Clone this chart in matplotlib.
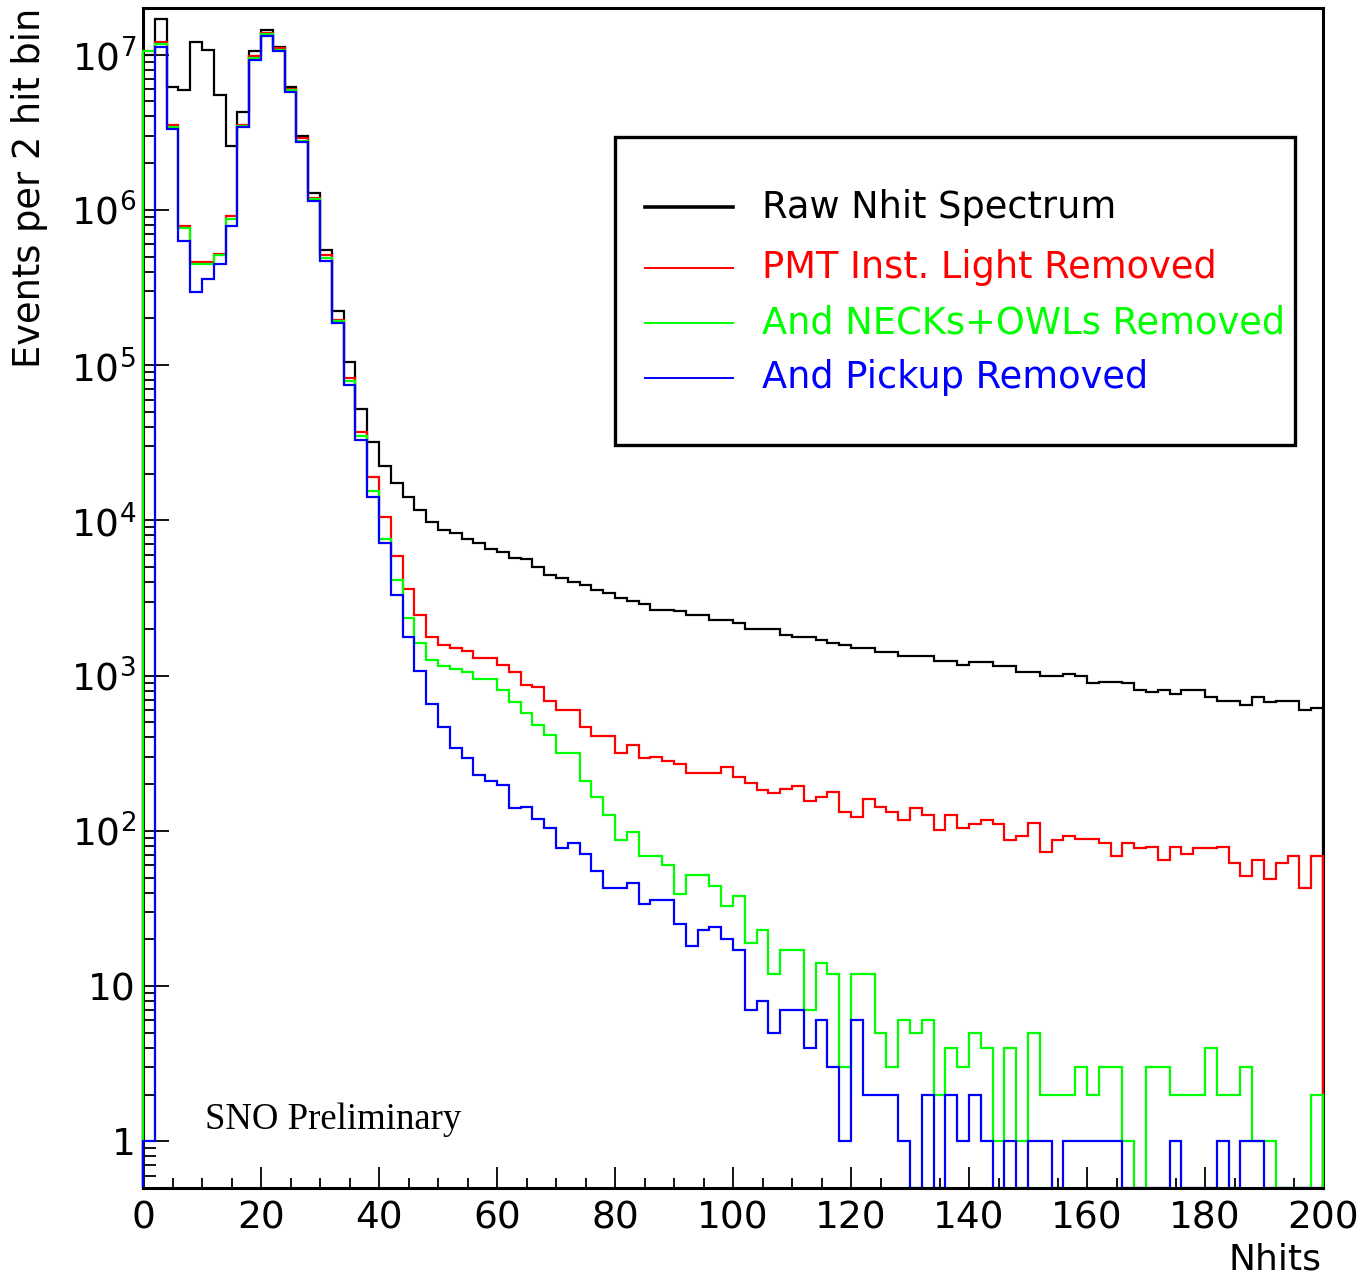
import numpy as np
import matplotlib
matplotlib.use('Agg')
import matplotlib.pyplot as plt
from matplotlib.lines import Line2D
from matplotlib.patches import Rectangle
from matplotlib.ticker import MultipleLocator, FixedLocator, FuncFormatter, NullFormatter

plt.rcParams['font.family'] = ['DejaVu Sans']
plt.rcParams['mathtext.fontset'] = 'dejavusans'

# Nhit bins, 2 hits wide, 0..200
edges = np.arange(0, 202, 2)

raw = [1.0e7, 1.7e7, 6.2e6, 5.9e6, 1.2e7, 1.07e7, 5.5e6, 2.6e6, 4.3e6, 1.05e7,
       1.45e7, 1.12e7, 6.2e6, 3.0e6, 1.29e6, 5.5e5, 2.24e5, 1.05e5, 5.2e4, 3.2e4,
       22400, 17400, 14100, 11700, 9800, 8700, 8300, 7600, 7100, 6500,
       6300, 5750, 5600, 5000, 4470, 4270, 4000, 3850, 3550, 3430,
       3160, 3020, 2880, 2630, 2630, 2600, 2450, 2450, 2290, 2290,
       2190, 2000, 2000, 2000, 1820, 1780, 1780, 1700, 1620, 1580,
       1510, 1510, 1410, 1410, 1340, 1340, 1340, 1250, 1250, 1170,
       1220, 1220, 1150, 1150, 1050, 1050, 1000, 1000, 1020, 1000,
       890, 910, 910, 890, 810, 780, 810, 760, 810, 810,
       730, 690, 690, 650, 730, 680, 690, 690, 600, 615]

pmt_cut = [1.05e7, 1.2e7, 3.55e6, 7.9e5, 4.6e5, 4.6e5, 5.2e5, 9.1e5, 3.55e6, 9.8e6,
           1.38e7, 1.1e7, 6.0e6, 2.9e6, 1.2e6, 5.1e5, 1.95e5, 8.3e4, 3.7e4, 1.9e4,
           10500, 5900, 3600, 2450, 1780, 1580, 1510, 1450, 1290, 1290,
           1170, 1050, 870, 840, 690, 600, 600, 470, 410, 410,
           316, 355, 295, 300, 280, 270, 237, 237, 237, 257,
           221, 204, 182, 174, 186, 195, 155, 166, 178, 132,
           123, 160, 143, 132, 117, 140, 126, 101, 126, 105,
           110, 117, 110, 87, 93, 112, 73, 87, 93, 89,
           89, 83, 69, 83, 78, 79, 65, 79, 71, 78,
           78, 79, 62, 51, 65, 49, 62, 69, 43, 69]

neck_cut = [1.05e7, 1.17e7, 3.4e6, 7.6e5, 4.5e5, 4.5e5, 5.1e5, 8.7e5, 3.45e6, 9.5e6,
            1.35e7, 1.07e7, 5.9e6, 2.8e6, 1.17e6, 4.9e5, 1.93e5, 7.9e4, 3.5e4, 1.55e4,
            7600, 4100, 2340, 1620, 1260, 1150, 1100, 1050, 955, 955,
            810, 676, 575, 480, 417, 316, 316, 209, 166, 126,
            87, 98, 69, 69, 60, 39, 52, 52, 44, 33,
            38, 19, 23, 12, 17, 17, 7, 14, 12, 3,
            12, 12, 5, 3, 6, 5, 6, 2, 4, 3,
            5, 4, 1, 4, 1, 5, 2, 2, 2, 3,
            2, 3, 3, 1, 0, 3, 3, 2, 2, 2,
            4, 2, 2, 3, 1, 1, 0, 0, 0, 2]

pickup_cut = [1, 1.12e7, 3.3e6, 6.3e5, 2.95e5, 3.6e5, 4.5e5, 7.9e5, 3.4e6, 9.3e6,
              1.32e7, 1.05e7, 5.75e6, 2.75e6, 1.15e6, 4.7e5, 1.86e5, 7.4e4, 3.3e4, 1.41e4,
              7100, 3300, 1780, 1070, 660, 470, 340, 295, 229, 209,
              197, 140, 143, 120, 105, 78, 83, 71, 55, 43,
              43, 46, 34, 36, 36, 25, 18, 23, 24, 20,
              17, 7, 8, 5, 7, 7, 4, 6, 3, 1,
              6, 2, 2, 2, 1, 0, 2, 0, 2, 1,
              2, 1, 0, 1, 0, 1, 1, 0, 1, 1,
              1, 1, 1, 0, 0, 0, 0, 1, 0, 0,
              0, 1, 0, 1, 1, 0, 0, 0, 0, 0]

labels = ['Raw Nhit Spectrum', 'PMT Inst. Light Removed',
          'And NECKs+OWLs Removed', 'And Pickup Removed']
colors = ['#000000', '#ff0000', '#00ff00', '#0000ff']

W, H = 1365, 1280
fig = plt.figure(figsize=(W / 100, H / 100), dpi=100)
ax = fig.add_axes([143 / W, 1 - 1188 / H, (1323 - 143) / W, (1188 - 8) / H])

ymin, ymax = 0.5, 2.0e7
for vals, c in zip([raw, pmt_cut, neck_cut, pickup_cut], colors):
    v = np.asarray(vals, dtype=float)
    v = np.where(v > ymin, v, ymin)  # empty bins sit on the frame bottom
    ax.stairs(v, edges, baseline=ymin, color=c, lw=1.6, zorder=3, clip_on=False)

ax.set_yscale('log')
ax.set_xlim(0, 200)
ax.set_ylim(ymin, ymax)

decades = [10.0 ** k for k in range(0, 8)]
minors = [m * 10.0 ** k for k in range(-1, 8) for m in range(2, 10)
          if ymin <= m * 10.0 ** k <= ymax]
ax.xaxis.set_major_locator(MultipleLocator(20))
ax.xaxis.set_minor_locator(MultipleLocator(5))
ax.yaxis.set_major_locator(FixedLocator(decades))
ax.yaxis.set_minor_locator(FixedLocator(minors))
ax.yaxis.set_minor_formatter(NullFormatter())


def ylab(v, pos):
    e = int(round(np.log10(v)))
    if e == 0:
        return '1'
    if e == 1:
        return '10'
    return r'$10^{%d}$' % e


ax.yaxis.set_major_formatter(FuncFormatter(ylab))

ax.tick_params(which='both', direction='in', top=False, right=False, width=1.3,
               labelsize=27, colors='black')
ax.tick_params(axis='x', which='major', length=15, pad=9)
ax.tick_params(axis='x', which='minor', length=7)
ax.tick_params(axis='y', which='major', length=19, pad=5)
ax.tick_params(axis='y', which='minor', length=9)
for s in ax.spines.values():
    s.set_linewidth(2.2)
ax.spines['left'].set_zorder(2)
ax.spines['right'].set_zorder(2)
ax.spines['bottom'].set_zorder(4)
ax.spines['top'].set_zorder(4)

# axis titles, ROOT style at the axis ends
fig.text(30 / W, 1 - 8 / H, 'Events per 2 hit bin', rotation=90,
         ha='center', va='top', fontsize=26.5)
fig.text(1322 / W, 1 - 1260 / H, 'Nhits', ha='right', va='center', fontsize=26)

fig.text(205 / W, 1 - 1120 / H, 'SNO Preliminary',
         family='Liberation Serif', fontsize=26.5, ha='left', va='center')

# legend box
fig.add_artist(Rectangle((615 / W, 1 - 445 / H), 680 / W, 308 / H,
                         transform=fig.transFigure, fill=False,
                         edgecolor='black', lw=2.4))
rows = [207, 268, 323, 378]
for y, lab, c in zip(rows, labels, colors):
    fy = 1 - y / H
    fig.add_artist(Line2D([645 / W, 733 / W], [fy, fy], color=c,
                          lw=2.6 if c == '#000000' else 1.4,
                          transform=fig.transFigure))
    fig.text(762 / W, fy, lab, color=c, fontsize=26.5, ha='left', va='center')

fig.savefig('out.png', dpi=100)
